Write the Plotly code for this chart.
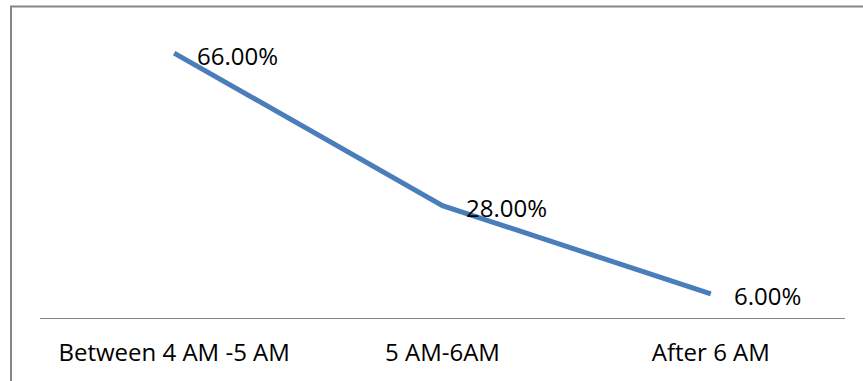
import plotly.graph_objects as go

# Share of respondents by time slot
categories = ["Between 4 AM -5 AM", "5 AM-6AM", "After 6 AM"]
shares = [66.0, 28.0, 6.0]

FONT = "Open Sans"
LINE_BLUE = "#4A7EBB"
GRAY = "#868686"

fig = go.Figure()
fig.add_trace(go.Scatter(
    x=categories,
    y=shares,
    mode="lines",
    line=dict(color=LINE_BLUE, width=5),
    hoverinfo="skip",
    showlegend=False,
))

# Data labels to the right of each point
for cat, val in zip(categories, shares):
    fig.add_annotation(
        x=cat, y=val, text=f"{val:.2f}%",
        showarrow=False, xanchor="left", yanchor="middle",
        xshift=21, yshift=-2,
        font=dict(family=FONT, size=24, color="#000000"),
    )

# Chart-area border (top and left edges visible)
fig.add_shape(
    type="rect", xref="paper", yref="paper",
    x0=-0.036, x1=1.2, y0=-0.5, y1=1.1085,
    line=dict(color=GRAY, width=2), fillcolor="rgba(0,0,0,0)",
    layer="above",
)

fig.update_layout(
    width=863, height=381,
    margin=dict(l=40, r=18, t=37, b=63),
    paper_bgcolor="white", plot_bgcolor="white",
    font=dict(family=FONT, size=24, color="#000000"),
    xaxis=dict(
        type="category", range=[-0.5, 2.5],
        showline=True, linecolor=GRAY, linewidth=1,
        showgrid=False, zeroline=False, ticks="",
        ticklabelstandoff=13,
        tickfont=dict(family=FONT, size=24, color="#000000"),
        fixedrange=True,
    ),
    yaxis=dict(
        range=[0, 70], visible=False, showgrid=False, zeroline=False,
        fixedrange=True,
    ),
)

fig.write_html("out.html", config={"displayModeBar": False})
